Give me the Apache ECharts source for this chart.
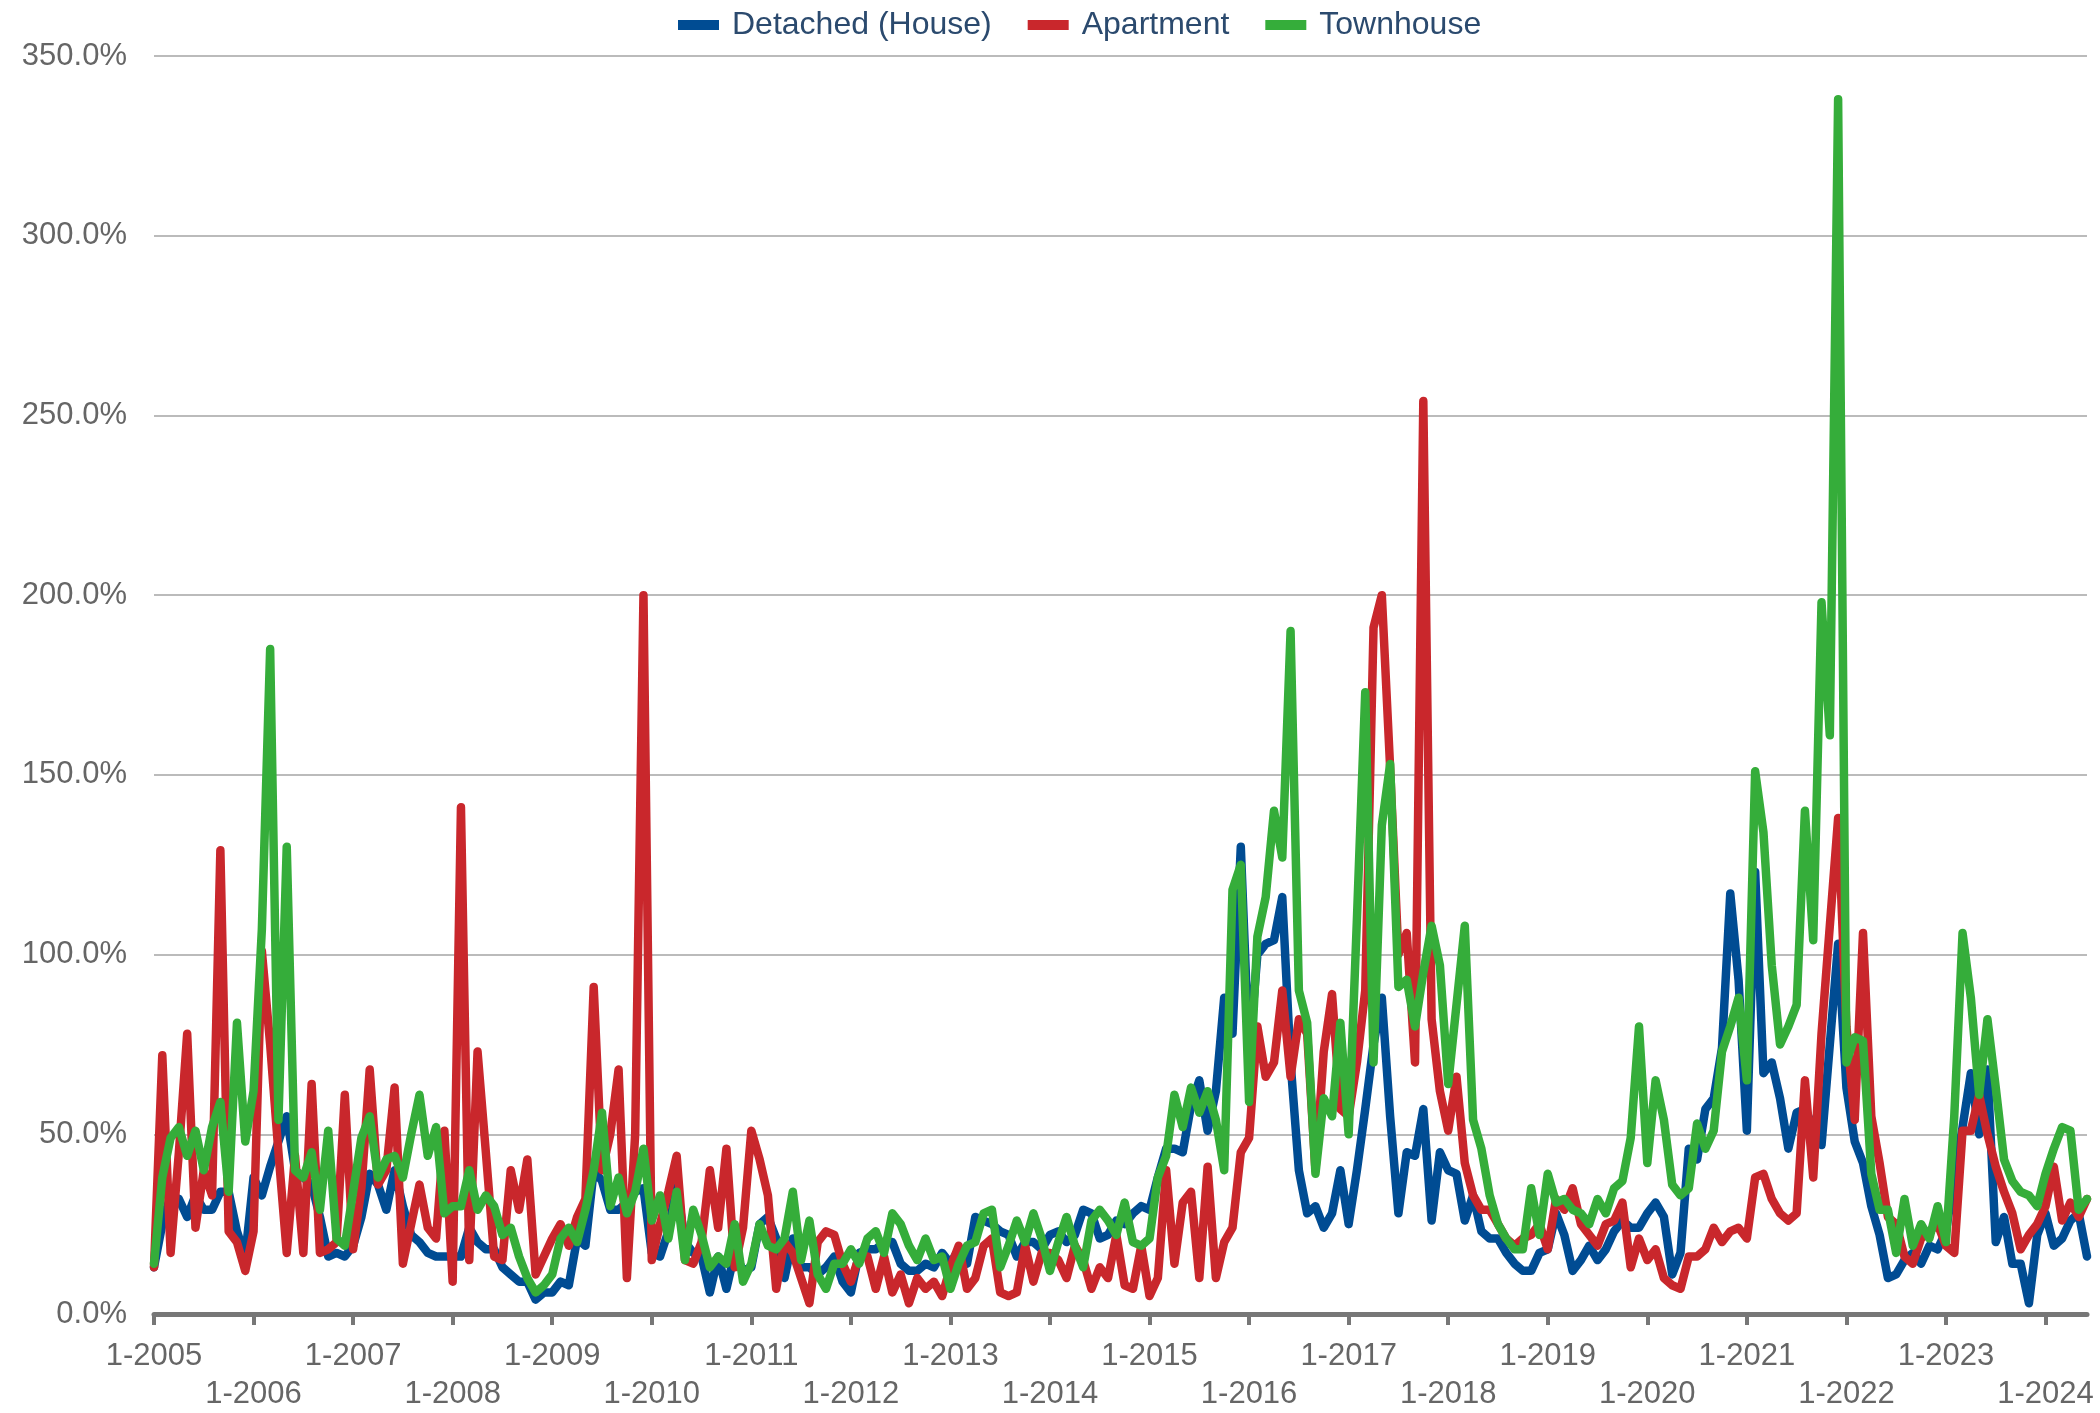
<!DOCTYPE html>
<html>
<head>
<meta charset="utf-8">
<script src="https://cdn.jsdelivr.net/npm/echarts@6/dist/echarts.min.js"></script>
<style>
html,body{margin:0;padding:0;background:#fff;}
#chart{width:2100px;height:1413px;}
</style>
</head>
<body>
<div id="chart"></div>
<script>
// Tick labels (first month of each year)
const tickYears = [2005,2006,2007,2008,2009,2010,2011,2012,2013,2014,2015,2016,2017,2018,2019,2020,2021,2022,2023,2024];
const lastYearMonths = 6; // data runs Jan 2005 - Jun 2024

// Monthly values (%), one row per year
const detached = [
  13,25,33,32,27,33,29,29,34,34,23,16,
  38,33,41,48,55,40,38,36,27,16,17,16,
  19,27,39,36,29,40,30,22,20,17,16,16,
  16,16,24,20,18,18,13,11,9,9,4,6,
  6,9,8,21,19,40,37,29,29,31,34,35,
  17,16,23,36,20,17,16,6,16,7,17,12,
  13,25,27,21,10,21,13,13,11,13,16,9,
  6,17,18,18,20,20,14,12,12,14,13,17,
  14,18,14,27,26,25,23,22,16,20,20,18,
  22,23,20,22,29,28,21,22,26,25,28,30,
  29,38,46,46,45,58,65,51,62,88,78,130,
  72,100,103,104,116,70,40,28,30,24,28,40,
  25,40,57,75,88,55,28,45,44,57,26,45,
  40,39,26,33,23,21,21,17,14,12,12,17,
  18,28,22,12,15,19,15,18,23,26,24,24,
  28,31,27,11,17,46,43,57,60,74,117,93,
  51,123,67,70,60,46,56,57,52,47,75,103,
  63,48,42,30,22,10,11,15,17,14,19,18,
  23,38,52,67,50,68,20,27,14,14,3,22,
  28,19,21,26,28,16
];
const apartment = [
  13,72,17,45,78,24,40,33,129,23,20,12,
  23,101,75,45,17,44,17,64,17,18,20,61,
  18,35,68,36,40,63,14,25,36,24,21,51,
  9,141,15,73,45,16,15,40,29,43,11,16,
  21,25,19,27,32,91,40,50,68,10,50,200,
  15,25,34,44,15,14,20,40,24,46,13,24,
  51,43,33,7,20,17,10,3,20,23,22,14,
  9,16,16,7,16,6,11,3,10,7,9,5,
  13,19,7,10,19,21,6,5,6,19,9,17,
  17,15,10,19,15,7,13,10,22,8,7,19,
  5,10,40,14,31,34,10,41,10,20,24,45,
  49,80,66,70,90,66,82,78,40,73,89,57,
  55,70,90,191,200,152,100,106,70,254,82,62,
  51,66,42,33,29,29,25,21,19,21,22,25,
  18,32,29,35,25,22,19,25,26,31,13,21,
  15,18,10,8,7,16,16,18,24,20,23,24,
  21,38,39,32,28,26,28,65,38,78,108,138,
  80,54,106,55,42,27,25,16,14,21,23,25,
  19,17,51,51,61,50,41,34,28,18,22,25,
  30,41,26,31,27,32
];
const townhouse = [
  14,38,49,52,44,51,40,52,59,34,81,48,
  62,107,185,54,130,40,38,45,29,51,21,19,
  34,49,55,38,43,44,38,50,61,44,52,28,
  30,30,40,29,33,30,22,24,16,10,6,8,
  11,21,24,20,29,40,56,30,38,28,34,46,
  26,33,21,34,15,29,22,13,16,14,25,9,
  14,25,19,18,21,34,15,26,11,7,14,14,
  18,14,21,23,17,28,25,19,15,21,15,16,
  7,14,19,20,28,29,13,19,26,20,28,21,
  12,20,27,19,13,26,29,26,22,31,20,19,
  21,38,44,61,52,63,56,62,54,40,118,125,
  59,105,116,140,127,190,90,81,39,60,55,81,
  50,110,173,70,136,153,91,93,80,95,108,97,
  64,86,108,54,46,33,25,21,18,18,35,22,
  39,31,32,29,28,25,32,28,35,37,49,80,
  42,65,54,36,33,35,53,46,51,73,80,88,
  65,151,134,97,75,80,86,140,104,198,161,338,
  70,77,76,39,29,29,17,32,19,25,21,30,
  20,55,106,88,61,82,63,43,37,34,33,30,
  39,46,52,51,29,32
];
const seriesNames = ['Detached (House)','Apartment','Townhouse'];
const seriesColors = ['#004c93','#c9272c','#35ad3a'];

// Month categories built from the year list
const categories = [];
tickYears.forEach((y, i) => {
  const n = (i === tickYears.length - 1) ? lastYearMonths : 12;
  for (let m = 1; m <= n; m++) categories.push(m + '-' + y);
});

const chart = echarts.init(document.getElementById('chart'), null, {renderer:'canvas'});
const font = '"Liberation Sans", Arial, sans-serif';
const values = [detached, apartment, townhouse];

chart.setOption({
  animation: false,
  backgroundColor: '#ffffff',
  legend: {
    data: seriesNames,
    left: 673,
    top: 4,
    icon: 'rect',
    itemWidth: 41,
    itemHeight: 10,
    itemGap: 36,
    textStyle: {fontSize: 32, color: '#2b4a6e', fontFamily: font, padding: [0, 0, 0, 8]}
  },
  grid: {left: 154, right: 13, top: 56, bottom: 79, containLabel: false},
  xAxis: {
    type: 'category',
    data: categories,
    boundaryGap: false,
    axisLine: {show: true, lineStyle: {color: '#777777', width: 5}},
    axisTick: {
      show: true,
      interval: (idx) => idx % 12 === 0,
      length: 11,
      lineStyle: {color: '#777777', width: 4}
    },
    axisLabel: {
      interval: (idx) => idx % 12 === 0,
      formatter: (value) => {
        const y = parseInt(value.split('-')[1], 10);
        return ((y - tickYears[0]) % 2 === 1) ? '\n' + value : value;
      },
      fontSize: 31,
      lineHeight: 38,
      margin: 23,
      color: '#666666',
      fontFamily: font
    },
    splitLine: {show: false}
  },
  yAxis: {
    type: 'value',
    min: 0,
    max: 350,
    interval: 50,
    axisLine: {show: false},
    axisTick: {show: false},
    axisLabel: {
      formatter: (v) => v.toFixed(1) + '%',
      fontSize: 31,
      margin: 27,
      color: '#666666',
      fontFamily: font
    },
    splitLine: {lineStyle: {color: '#bbbbbb', width: 2}}
  },
  series: seriesNames.map((name, i) => ({
    name: name,
    type: 'line',
    data: values[i],
    symbol: 'none',
    smooth: false,
    color: seriesColors[i],
    lineStyle: {width: 8.5, color: seriesColors[i], cap: 'round', join: 'round'},
    emphasis: {disabled: true}
  }))
});
</script>
</body>
</html>
